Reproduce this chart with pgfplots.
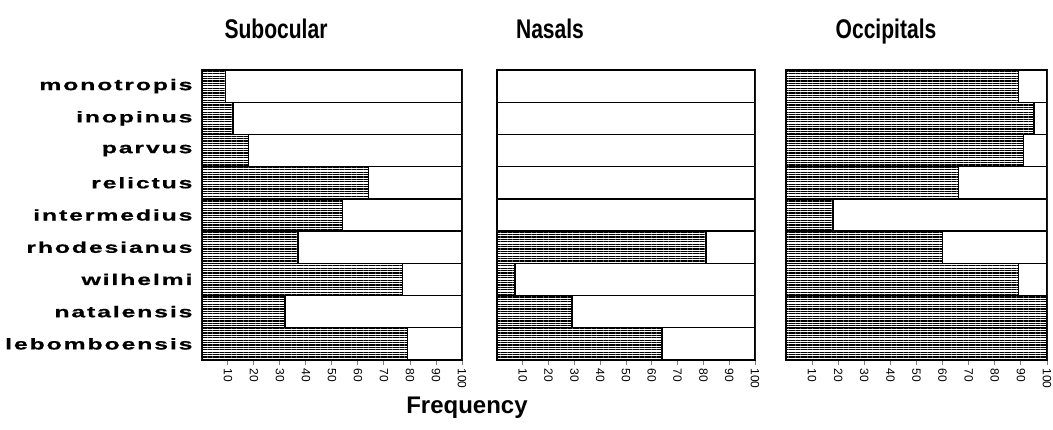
\documentclass[border=0pt]{standalone}
\usepackage{fontspec}
\setmainfont{Liberation Sans}
\newfontfamily\titlefont{Liberation Sans}[FakeStretch=0.78]
\newfontfamily\labelfont{Liberation Sans}[FakeStretch=1.6,LetterSpace=12,FakeBold=0.8]
\usepackage{pgfplots}
\pgfplotsset{compat=1.18}
\usetikzlibrary{patterns.meta}

% frequency (%) per species; full = whole bar
\pgfplotstableread{
idx name sub nas occ full
0 monotropis 9 0 89 100
1 inopinus 12 0 95 100
2 parvus 18 0 91 100
3 relictus 64 0 66 100
4 intermedius 54 0 18 100
5 rhodesianus 37 81 60 100
6 wilhelmi 77 7 89 100
7 natalensis 32 29 100 100
8 lebomboensis 79 64 100 100
}\data

\pgfplotsset{
  panel/.style={
    scale only axis, height=290pt,
    xmin=0, xmax=100, ymin=-0.5, ymax=8.5, y dir=reverse,
    xbar, bar width=1, bar shift=0pt,
    axis line style={line width=1.6pt},
    xtick={10,20,...,100}, xtick pos=lower, tick align=outside,
    major tick length=5pt, xtick style={line width=1pt},
    xticklabel style={rotate=-90, anchor=west, font=\fontsize{12}{12}\selectfont},
    /pgf/number format/assume math mode=true,
    ytick={0,...,8}, ytick style={draw=none},
    anchor=south west,
  },
  empty/.style={fill=white, draw=black, line width=1.4pt},
  hatch/.style={draw=black, line width=1.4pt,
    pattern={Lines[angle=0, distance=2.4pt, line width=1.3pt]}, pattern color=black},
}

\begin{document}
\begin{tikzpicture}
\begin{axis}[panel, at={(202pt,69pt)}, width=260pt,
  yticklabels={monotropis,inopinus,parvus,relictus,intermedius,rhodesianus,wilhelmi,natalensis,lebomboensis},
  yticklabel style={font=\labelfont\bfseries\fontsize{15.5}{15.5}\selectfont, xshift=-1pt}]
\addplot[empty] table[x=full, y=idx] {\data};
\addplot[hatch] table[x=sub, y=idx] {\data};
\end{axis}
\begin{axis}[panel, at={(497pt,69pt)}, width=258pt, yticklabels={}]
\addplot[empty] table[x=full, y=idx] {\data};
\addplot[hatch] table[x=nas, y=idx] {\data};
\end{axis}
\begin{axis}[panel, at={(786pt,69pt)}, width=261pt, yticklabels={}]
\addplot[empty] table[x=full, y=idx] {\data};
\addplot[hatch] table[x=occ, y=idx] {\data};
\end{axis}
\node[anchor=base, font=\titlefont\bfseries\fontsize{27}{27}\selectfont] at (276pt,390pt) {Subocular};
\node[anchor=base, font=\titlefont\bfseries\fontsize{27}{27}\selectfont] at (550pt,390pt) {Nasals};
\node[anchor=base, font=\titlefont\bfseries\fontsize{27}{27}\selectfont] at (886pt,390pt) {Occipitals};
\node[anchor=base, font=\bfseries\fontsize{24}{24}\selectfont] at (467pt,16pt) {Frequency};
\pgfresetboundingbox
\path (0,0) rectangle (1053pt,429pt);
\end{tikzpicture}
\end{document}
